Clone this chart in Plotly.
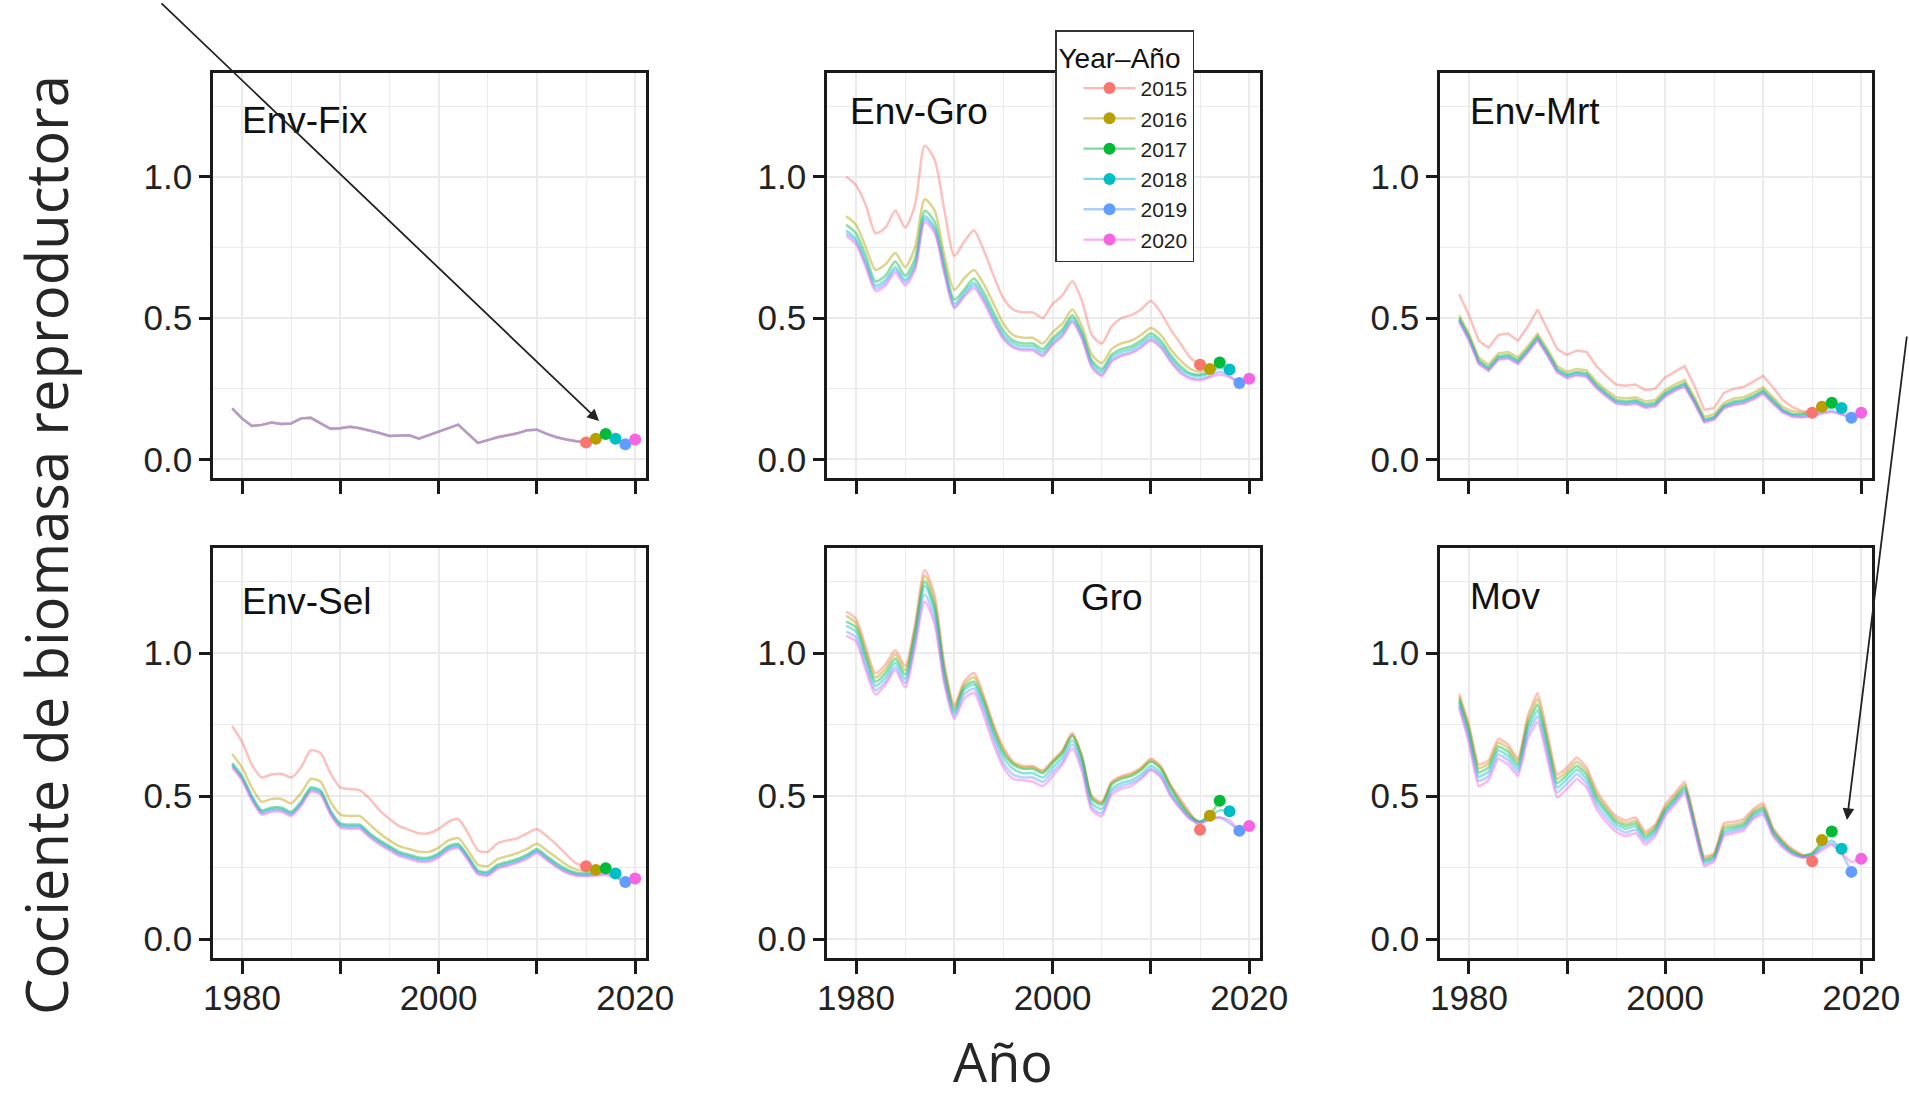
import plotly.graph_objects as go

# ---------------- data ----------------
YEARS = list(range(1979, 2021))
PEEL_YEARS = [2015, 2016, 2017, 2018, 2019, 2020]
COLORS = ["#F8766D", "#B79F00", "#00BA38", "#00BFC4", "#619CFF", "#F564E3"]
PANELS = ["Env-Fix", "Env-Gro", "Env-Mrt", "Env-Sel", "Gro", "Mov"]
X_TICKS = [1980, 1990, 2000, 2010, 2020]
X_TICK_TEXT = ["1980", "", "2000", "", "2020"]
X_MINOR = [1985, 1995, 2005, 2015]
Y_TICKS = [0.0, 0.5, 1.0]
Y_TICK_TEXT = ["0.0", "0.5", "1.0"]
Y_MINOR = [0.25, 0.75, 1.25]

# Env-Fix: all retrospective peels overlap up to 2014
ENV_FIX_HIST = [0.18, 0.145, 0.118, 0.122, 0.13, 0.125, 0.127, 0.145, 0.147, 0.128,
                0.108, 0.11, 0.115, 0.11, 0.102, 0.093, 0.083, 0.083, 0.085, 0.073,
                0.085, 0.097, 0.11, 0.123, 0.09, 0.058, 0.068, 0.078, 0.085, 0.092,
                0.103, 0.105, 0.09, 0.078, 0.07, 0.064]
ENV_FIX_TAIL_2015 = [0.06]
ENV_FIX_TAIL_2016 = [0.062, 0.073]
ENV_FIX_TAIL_2017 = [0.063, 0.075, 0.09]
ENV_FIX_TAIL_2018 = [0.062, 0.072, 0.085, 0.073]
ENV_FIX_TAIL_2019 = [0.061, 0.07, 0.08, 0.068, 0.053]
ENV_FIX_TAIL_2020 = [0.061, 0.07, 0.08, 0.07, 0.058, 0.07]

ENV_GRO_2015 = [1.00, 0.97, 0.90, 0.80, 0.82, 0.88, 0.82, 0.90, 1.11, 1.06, 0.88, 0.72, 0.77, 0.81, 0.74,
                0.65, 0.57, 0.53, 0.52, 0.52, 0.50, 0.55, 0.58, 0.63, 0.56, 0.44, 0.41, 0.47, 0.50, 0.51,
                0.53, 0.56, 0.52, 0.46, 0.41, 0.36, 0.335]
ENV_GRO_2016 = [0.86, 0.83, 0.75, 0.67, 0.69, 0.73, 0.68, 0.75, 0.92, 0.88, 0.72, 0.60, 0.64, 0.67, 0.62,
                0.55, 0.48, 0.44, 0.43, 0.43, 0.41, 0.45, 0.48, 0.53, 0.47, 0.37, 0.34, 0.39, 0.41, 0.42,
                0.44, 0.465, 0.44, 0.39, 0.35, 0.32, 0.31, 0.32]
ENV_GRO_2017 = [0.83, 0.80, 0.72, 0.63, 0.65, 0.70, 0.65, 0.71, 0.88, 0.84, 0.69, 0.565, 0.60, 0.64, 0.59,
                0.52, 0.455, 0.42, 0.41, 0.41, 0.39, 0.43, 0.46, 0.51, 0.45, 0.35, 0.32, 0.37, 0.39, 0.40,
                0.42, 0.445, 0.42, 0.37, 0.33, 0.305, 0.30, 0.31, 0.343]
ENV_GRO_2018 = [0.81, 0.78, 0.70, 0.615, 0.635, 0.68, 0.635, 0.69, 0.86, 0.82, 0.675, 0.55, 0.59, 0.625, 0.575,
                0.505, 0.44, 0.41, 0.40, 0.40, 0.38, 0.42, 0.45, 0.50, 0.44, 0.34, 0.31, 0.36, 0.38, 0.39,
                0.41, 0.435, 0.41, 0.36, 0.32, 0.30, 0.295, 0.305, 0.325, 0.318]
ENV_GRO_2019 = [0.80, 0.77, 0.69, 0.605, 0.625, 0.67, 0.625, 0.68, 0.85, 0.81, 0.665, 0.54, 0.58, 0.615, 0.565,
                0.495, 0.43, 0.40, 0.39, 0.39, 0.37, 0.41, 0.44, 0.49, 0.43, 0.33, 0.30, 0.35, 0.37, 0.38,
                0.40, 0.425, 0.40, 0.35, 0.31, 0.29, 0.285, 0.295, 0.31, 0.295, 0.27]
ENV_GRO_2020 = [0.79, 0.76, 0.68, 0.595, 0.615, 0.66, 0.615, 0.67, 0.84, 0.80, 0.655, 0.535, 0.575, 0.605, 0.555,
                0.485, 0.425, 0.395, 0.385, 0.385, 0.365, 0.405, 0.435, 0.485, 0.425, 0.325, 0.295, 0.345, 0.365, 0.375,
                0.395, 0.42, 0.395, 0.345, 0.305, 0.285, 0.28, 0.29, 0.30, 0.29, 0.275, 0.285]

ENV_MRT_2015 = [0.585, 0.51, 0.42, 0.395, 0.44, 0.445, 0.42, 0.47, 0.53, 0.46, 0.39, 0.37, 0.385, 0.38, 0.33,
                0.295, 0.265, 0.26, 0.265, 0.245, 0.25, 0.29, 0.31, 0.33, 0.26, 0.175, 0.182, 0.235, 0.25, 0.256,
                0.275, 0.295, 0.255, 0.21, 0.185, 0.17, 0.165]
ENV_MRT_2016 = [0.51, 0.445, 0.36, 0.335, 0.375, 0.38, 0.36, 0.40, 0.445, 0.39, 0.33, 0.31, 0.32, 0.315, 0.275,
                0.245, 0.22, 0.215, 0.22, 0.205, 0.21, 0.245, 0.265, 0.28, 0.22, 0.15, 0.16, 0.20, 0.215, 0.22,
                0.235, 0.255, 0.22, 0.185, 0.17, 0.165, 0.17, 0.186]
ENV_MRT_2017 = [0.50, 0.435, 0.35, 0.325, 0.365, 0.37, 0.35, 0.39, 0.435, 0.38, 0.32, 0.30, 0.31, 0.305, 0.265,
                0.235, 0.21, 0.205, 0.21, 0.195, 0.20, 0.235, 0.255, 0.27, 0.21, 0.14, 0.15, 0.19, 0.205, 0.21,
                0.225, 0.245, 0.21, 0.175, 0.16, 0.16, 0.165, 0.18, 0.20]
ENV_MRT_2018 = [0.495, 0.43, 0.345, 0.32, 0.36, 0.365, 0.345, 0.385, 0.43, 0.375, 0.315, 0.295, 0.305, 0.30, 0.26,
                0.23, 0.205, 0.20, 0.205, 0.19, 0.195, 0.23, 0.25, 0.265, 0.205, 0.137, 0.147, 0.187, 0.20, 0.205,
                0.22, 0.24, 0.205, 0.172, 0.157, 0.155, 0.16, 0.172, 0.185, 0.182]
ENV_MRT_2019 = [0.49, 0.425, 0.34, 0.315, 0.355, 0.36, 0.34, 0.38, 0.425, 0.37, 0.31, 0.29, 0.30, 0.295, 0.255,
                0.225, 0.20, 0.195, 0.20, 0.185, 0.19, 0.225, 0.245, 0.26, 0.20, 0.133, 0.143, 0.183, 0.195, 0.20,
                0.215, 0.235, 0.20, 0.168, 0.153, 0.15, 0.155, 0.165, 0.172, 0.16, 0.147]
ENV_MRT_2020 = [0.487, 0.42, 0.337, 0.312, 0.352, 0.357, 0.337, 0.377, 0.422, 0.367, 0.307, 0.287, 0.297, 0.292, 0.252,
                0.222, 0.197, 0.192, 0.197, 0.182, 0.187, 0.222, 0.242, 0.257, 0.197, 0.13, 0.14, 0.18, 0.192, 0.197,
                0.212, 0.232, 0.197, 0.165, 0.15, 0.148, 0.152, 0.162, 0.168, 0.158, 0.15, 0.165]

ENV_SEL_2015 = [0.745, 0.69, 0.61, 0.565, 0.575, 0.578, 0.565, 0.60, 0.66, 0.65, 0.58, 0.53, 0.525, 0.52, 0.49,
                0.45, 0.42, 0.395, 0.382, 0.37, 0.37, 0.385, 0.41, 0.42, 0.37, 0.31, 0.305, 0.335, 0.345, 0.352,
                0.37, 0.385, 0.36, 0.33, 0.295, 0.265, 0.255]
ENV_SEL_2016 = [0.647, 0.60, 0.53, 0.48, 0.49, 0.49, 0.475, 0.51, 0.56, 0.55, 0.48, 0.435, 0.43, 0.43, 0.40,
                0.37, 0.345, 0.325, 0.315, 0.305, 0.305, 0.32, 0.345, 0.353, 0.31, 0.26, 0.255, 0.28, 0.29, 0.30,
                0.315, 0.333, 0.31, 0.285, 0.26, 0.243, 0.238, 0.242]
ENV_SEL_2017 = [0.615, 0.57, 0.50, 0.45, 0.46, 0.46, 0.445, 0.48, 0.53, 0.52, 0.45, 0.405, 0.40, 0.40, 0.37,
                0.345, 0.325, 0.305, 0.295, 0.285, 0.285, 0.30, 0.325, 0.333, 0.29, 0.24, 0.235, 0.26, 0.27, 0.28,
                0.295, 0.315, 0.29, 0.265, 0.245, 0.232, 0.23, 0.235, 0.248]
ENV_SEL_2018 = [0.61, 0.565, 0.495, 0.445, 0.455, 0.455, 0.44, 0.475, 0.525, 0.515, 0.445, 0.40, 0.395, 0.395, 0.365,
                0.34, 0.32, 0.30, 0.29, 0.28, 0.28, 0.295, 0.32, 0.328, 0.285, 0.235, 0.23, 0.255, 0.265, 0.275,
                0.29, 0.31, 0.285, 0.26, 0.24, 0.228, 0.226, 0.23, 0.235, 0.229]
ENV_SEL_2019 = [0.605, 0.56, 0.49, 0.44, 0.45, 0.45, 0.435, 0.47, 0.52, 0.51, 0.44, 0.395, 0.39, 0.39, 0.36,
                0.335, 0.315, 0.295, 0.285, 0.275, 0.275, 0.29, 0.315, 0.323, 0.28, 0.23, 0.225, 0.25, 0.26, 0.27,
                0.285, 0.305, 0.28, 0.255, 0.235, 0.224, 0.222, 0.225, 0.228, 0.218, 0.20]
ENV_SEL_2020 = [0.60, 0.555, 0.485, 0.435, 0.445, 0.445, 0.43, 0.465, 0.515, 0.505, 0.435, 0.39, 0.385, 0.385, 0.355,
                0.33, 0.31, 0.29, 0.28, 0.27, 0.27, 0.285, 0.31, 0.318, 0.275, 0.226, 0.222, 0.246, 0.256, 0.266,
                0.28, 0.30, 0.276, 0.252, 0.232, 0.222, 0.22, 0.222, 0.224, 0.215, 0.205, 0.212]

GRO_2015 = [1.145, 1.12, 1.02, 0.93, 0.96, 1.01, 0.955, 1.10, 1.29, 1.20, 0.96, 0.82, 0.90, 0.93, 0.85,
            0.75, 0.67, 0.62, 0.605, 0.605, 0.59, 0.625, 0.66, 0.72, 0.64, 0.50, 0.48, 0.55, 0.57, 0.58,
            0.60, 0.63, 0.605, 0.54, 0.49, 0.44, 0.382]
GRO_2016 = [1.13, 1.105, 1.005, 0.915, 0.945, 0.995, 0.94, 1.085, 1.27, 1.18, 0.945, 0.81, 0.89, 0.915, 0.84,
            0.74, 0.66, 0.615, 0.60, 0.60, 0.585, 0.62, 0.655, 0.715, 0.635, 0.495, 0.475, 0.545, 0.565, 0.575,
            0.595, 0.625, 0.60, 0.535, 0.48, 0.435, 0.41, 0.431]
GRO_2017 = [1.11, 1.09, 0.99, 0.90, 0.93, 0.98, 0.925, 1.07, 1.25, 1.16, 0.93, 0.80, 0.88, 0.90, 0.83,
            0.73, 0.65, 0.61, 0.595, 0.595, 0.58, 0.615, 0.65, 0.71, 0.63, 0.49, 0.47, 0.54, 0.56, 0.57,
            0.59, 0.62, 0.595, 0.53, 0.475, 0.43, 0.41, 0.435, 0.484]
GRO_2018 = [1.095, 1.075, 0.975, 0.885, 0.915, 0.965, 0.91, 1.055, 1.235, 1.145, 0.915, 0.79, 0.87, 0.89, 0.815,
            0.715, 0.635, 0.595, 0.58, 0.58, 0.565, 0.60, 0.635, 0.695, 0.615, 0.475, 0.455, 0.525, 0.545, 0.555,
            0.575, 0.605, 0.58, 0.515, 0.465, 0.425, 0.41, 0.43, 0.45, 0.447]
GRO_2019 = [1.075, 1.055, 0.955, 0.87, 0.90, 0.95, 0.895, 1.035, 1.205, 1.12, 0.90, 0.78, 0.855, 0.875, 0.80,
            0.70, 0.615, 0.575, 0.565, 0.565, 0.55, 0.585, 0.62, 0.68, 0.60, 0.46, 0.44, 0.515, 0.535, 0.545,
            0.565, 0.595, 0.57, 0.505, 0.46, 0.42, 0.405, 0.42, 0.425, 0.405, 0.379]
GRO_2020 = [1.06, 1.04, 0.94, 0.855, 0.89, 0.94, 0.88, 1.02, 1.18, 1.10, 0.89, 0.77, 0.84, 0.86, 0.78,
            0.68, 0.60, 0.56, 0.555, 0.55, 0.535, 0.57, 0.61, 0.665, 0.585, 0.45, 0.43, 0.505, 0.525, 0.535,
            0.56, 0.59, 0.565, 0.50, 0.455, 0.42, 0.405, 0.42, 0.425, 0.415, 0.38, 0.395]

MOV_2015 = [0.856, 0.75, 0.61, 0.625, 0.70, 0.68, 0.63, 0.78, 0.86, 0.72, 0.575, 0.60, 0.635, 0.60, 0.52,
            0.47, 0.43, 0.415, 0.425, 0.375, 0.40, 0.47, 0.51, 0.55, 0.42, 0.29, 0.30, 0.405, 0.41, 0.42,
            0.455, 0.475, 0.39, 0.345, 0.315, 0.295, 0.272]
MOV_2016 = [0.848, 0.74, 0.597, 0.613, 0.687, 0.668, 0.62, 0.765, 0.84, 0.70, 0.56, 0.588, 0.62, 0.587, 0.508,
            0.46, 0.42, 0.404, 0.414, 0.367, 0.393, 0.46, 0.50, 0.54, 0.41, 0.282, 0.295, 0.395, 0.40, 0.41,
            0.447, 0.465, 0.383, 0.34, 0.31, 0.292, 0.30, 0.346]
MOV_2017 = [0.838, 0.728, 0.583, 0.60, 0.673, 0.655, 0.608, 0.75, 0.82, 0.685, 0.545, 0.575, 0.606, 0.574, 0.496,
            0.45, 0.41, 0.395, 0.405, 0.358, 0.386, 0.452, 0.492, 0.532, 0.403, 0.276, 0.29, 0.385, 0.392, 0.402,
            0.44, 0.457, 0.377, 0.335, 0.306, 0.29, 0.30, 0.335, 0.376]
MOV_2018 = [0.828, 0.715, 0.568, 0.585, 0.66, 0.64, 0.595, 0.735, 0.80, 0.668, 0.53, 0.56, 0.593, 0.56, 0.484,
            0.44, 0.40, 0.385, 0.395, 0.35, 0.378, 0.445, 0.485, 0.525, 0.397, 0.27, 0.284, 0.375, 0.385, 0.395,
            0.433, 0.45, 0.372, 0.33, 0.302, 0.288, 0.295, 0.325, 0.345, 0.316]
MOV_2019 = [0.818, 0.70, 0.553, 0.57, 0.645, 0.625, 0.582, 0.718, 0.78, 0.65, 0.512, 0.543, 0.577, 0.545, 0.47,
            0.425, 0.388, 0.372, 0.383, 0.34, 0.37, 0.438, 0.478, 0.518, 0.39, 0.263, 0.278, 0.368, 0.378, 0.388,
            0.426, 0.443, 0.366, 0.325, 0.298, 0.286, 0.292, 0.318, 0.335, 0.30, 0.235]
MOV_2020 = [0.81, 0.685, 0.535, 0.555, 0.63, 0.61, 0.57, 0.70, 0.76, 0.63, 0.495, 0.525, 0.56, 0.53, 0.455,
            0.41, 0.375, 0.36, 0.37, 0.33, 0.36, 0.43, 0.47, 0.51, 0.385, 0.255, 0.272, 0.36, 0.37, 0.38,
            0.42, 0.435, 0.36, 0.32, 0.295, 0.285, 0.29, 0.31, 0.33, 0.30, 0.27, 0.281]

SERIES = {
    "Env-Fix": [ENV_FIX_HIST + ENV_FIX_TAIL_2015, ENV_FIX_HIST + ENV_FIX_TAIL_2016,
                ENV_FIX_HIST + ENV_FIX_TAIL_2017, ENV_FIX_HIST + ENV_FIX_TAIL_2018,
                ENV_FIX_HIST + ENV_FIX_TAIL_2019, ENV_FIX_HIST + ENV_FIX_TAIL_2020],
    "Env-Gro": [ENV_GRO_2015, ENV_GRO_2016, ENV_GRO_2017, ENV_GRO_2018, ENV_GRO_2019, ENV_GRO_2020],
    "Env-Mrt": [ENV_MRT_2015, ENV_MRT_2016, ENV_MRT_2017, ENV_MRT_2018, ENV_MRT_2019, ENV_MRT_2020],
    "Env-Sel": [ENV_SEL_2015, ENV_SEL_2016, ENV_SEL_2017, ENV_SEL_2018, ENV_SEL_2019, ENV_SEL_2020],
    "Gro": [GRO_2015, GRO_2016, GRO_2017, GRO_2018, GRO_2019, GRO_2020],
    "Mov": [MOV_2015, MOV_2016, MOV_2017, MOV_2018, MOV_2019, MOV_2020],
}

# ---------------- styling / layout ----------------
W, H = 1909, 1102
COL_X = [(213, 646), (827, 1260), (1440, 1872)]
ROW_Y = [(73, 478), (548, 958)]
X_RANGE = [1977.05, 2021.1]
Y_RANGE = [-0.066, 1.367]
SMOOTH = {"Env-Fix": None, "Env-Gro": 0.7, "Env-Mrt": None, "Env-Sel": 0.6, "Gro": 0.7, "Mov": 0.4}
DEFAULT_ALPHA = [0.45] * 6
LINE_ALPHA = {"Env-Fix": [0.2, 0.2, 0.2, 0.2, 0.2, 0.45]}
LABEL_POS = {"Env-Fix": (240, 121), "Env-Gro": (848, 112), "Env-Mrt": (1468, 112),
             "Env-Sel": (240, 601), "Gro": (1079, 597), "Mov": (1468, 596)}
SANS = "Liberation Sans, Arial, sans-serif"
TICK_FONT = dict(family=SANS, size=35, color="#222222")
LABEL_FONT = dict(family=SANS, size=37, color="#111111")
TITLE_FONT_FAMILY = "Open Sans, sans-serif"
AXIS_COLOR = "#1a1a1a"
GRID_COLOR = "#EBEBEB"


def px(x):
    return x / W


def py(y):
    return 1 - y / H


def rgba(hex_color, alpha):
    h = hex_color.lstrip("#")
    r, g, b = int(h[0:2], 16), int(h[2:4], 16), int(h[4:6], 16)
    return f"rgba({r},{g},{b},{alpha})"


fig = go.Figure()
layout_axes = {}
annotations = []

for i, panel in enumerate(PANELS):
    r, c = divmod(i, 3)
    sfx = "" if i == 0 else str(i + 1)
    xl, xr = COL_X[c]
    yt, yb = ROW_Y[r]
    layout_axes[f"xaxis{sfx}"] = dict(
        domain=[px(xl), px(xr)], range=X_RANGE, anchor=f"y{sfx}",
        tickmode="array", tickvals=X_TICKS, ticktext=X_TICK_TEXT,
        showticklabels=(r == 1), tickfont=TICK_FONT, automargin=False,
        ticklabelstandoff=-6,
        ticks="outside", ticklen=13, tickwidth=2.5, tickcolor=AXIS_COLOR,
        showline=True, mirror=True, linecolor=AXIS_COLOR, linewidth=2.5,
        showgrid=True, gridcolor=GRID_COLOR, gridwidth=1.5, zeroline=False,
        minor=dict(tickmode="array", tickvals=X_MINOR, showgrid=True,
                   gridcolor=GRID_COLOR, gridwidth=1.2, ticks=""),
        fixedrange=True,
    )
    layout_axes[f"yaxis{sfx}"] = dict(
        domain=[py(yb), py(yt)], range=Y_RANGE, anchor=f"x{sfx}",
        tickmode="array", tickvals=Y_TICKS, ticktext=Y_TICK_TEXT,
        showticklabels=True, tickfont=TICK_FONT, automargin=False,
        ticks="outside", ticklen=11, tickwidth=2.5, tickcolor=AXIS_COLOR,
        showline=True, mirror=True, linecolor=AXIS_COLOR, linewidth=2.5,
        showgrid=True, gridcolor=GRID_COLOR, gridwidth=1.5, zeroline=False,
        minor=dict(tickmode="array", tickvals=Y_MINOR, showgrid=True,
                   gridcolor=GRID_COLOR, gridwidth=1.2, ticks=""),
        fixedrange=True,
    )
    sm = SMOOTH[panel]
    line_shape = dict(shape="spline", smoothing=sm) if sm else dict(shape="linear")
    alphas = LINE_ALPHA.get(panel, DEFAULT_ALPHA)
    for k, yr in enumerate(PEEL_YEARS):
        vals = SERIES[panel][k]
        fig.add_trace(go.Scatter(
            x=YEARS[:len(vals)], y=vals, mode="lines",
            line=dict(color=rgba(COLORS[k], alphas[k]), width=2.5, **line_shape),
            xaxis=f"x{sfx}", yaxis=f"y{sfx}", showlegend=False, hoverinfo="skip"))
    for k, yr in enumerate(PEEL_YEARS):
        vals = SERIES[panel][k]
        fig.add_trace(go.Scatter(
            x=[YEARS[len(vals) - 1]], y=[vals[-1]],
            mode="lines+markers" if i == 0 else "markers",
            marker=dict(color=COLORS[k], size=12),
            line=dict(color=rgba(COLORS[k], 0.5), width=2.3),
            name=str(yr), showlegend=(i == 0),
            xaxis=f"x{sfx}", yaxis=f"y{sfx}"))
    lx, ly = LABEL_POS[panel]
    annotations.append(dict(text=panel, x=px(lx), y=py(ly), xref="paper", yref="paper",
                            xanchor="left", yanchor="middle", showarrow=False, font=LABEL_FONT))

# axis titles
annotations.append(dict(text="Cociente de biomasa reproductora", x=px(45), y=py(545),
                        xref="paper", yref="paper", textangle=-90, showarrow=False,
                        xanchor="center", yanchor="middle",
                        font=dict(family=TITLE_FONT_FAMILY, size=58, color="#262626")))
annotations.append(dict(text="Año", x=px(1003), y=0, xref="paper", yref="paper",
                        showarrow=False, xanchor="center", yanchor="bottom",
                        borderpad=0, yshift=3,
                        font=dict(family=TITLE_FONT_FAMILY, size=54, color="#262626")))

# arrows
annotations.append(dict(text="", x=px(599), y=py(421), xref="paper", yref="paper",
                        showarrow=True, ax=160 - 599, ay=2 - 421, axref="pixel", ayref="pixel",
                        arrowhead=2, arrowsize=1.3, arrowwidth=1.8, arrowcolor="#222222", standoff=0))
annotations.append(dict(text="", x=px(1847), y=py(820), xref="paper", yref="paper",
                        showarrow=True, ax=1907 - 1847, ay=335 - 820, axref="pixel", ayref="pixel",
                        arrowhead=2, arrowsize=1.3, arrowwidth=1.8, arrowcolor="#222222", standoff=0))

fig.update_layout(
    width=W, height=H, autosize=False,
    margin=dict(l=0, r=0, t=0, b=0, pad=0, autoexpand=False),
    paper_bgcolor="white", plot_bgcolor="white",
    annotations=annotations,
    legend=dict(x=px(1055), y=py(30), xanchor="left", yanchor="top",
                bgcolor="white", bordercolor="#333333", borderwidth=1.5,
                font=dict(family=SANS, size=21, color="#222222"),
                title=dict(text="Year–Año", font=dict(family=SANS, size=28, color="#111111")),
                indentation=22, itemwidth=52, tracegroupgap=0),
    **layout_axes,
)

fig.write_html(
    "out.html",
    config={"displayModeBar": False, "responsive": False},
    post_script="document.body.style.margin='0px';document.body.style.overflow='hidden';",
)
